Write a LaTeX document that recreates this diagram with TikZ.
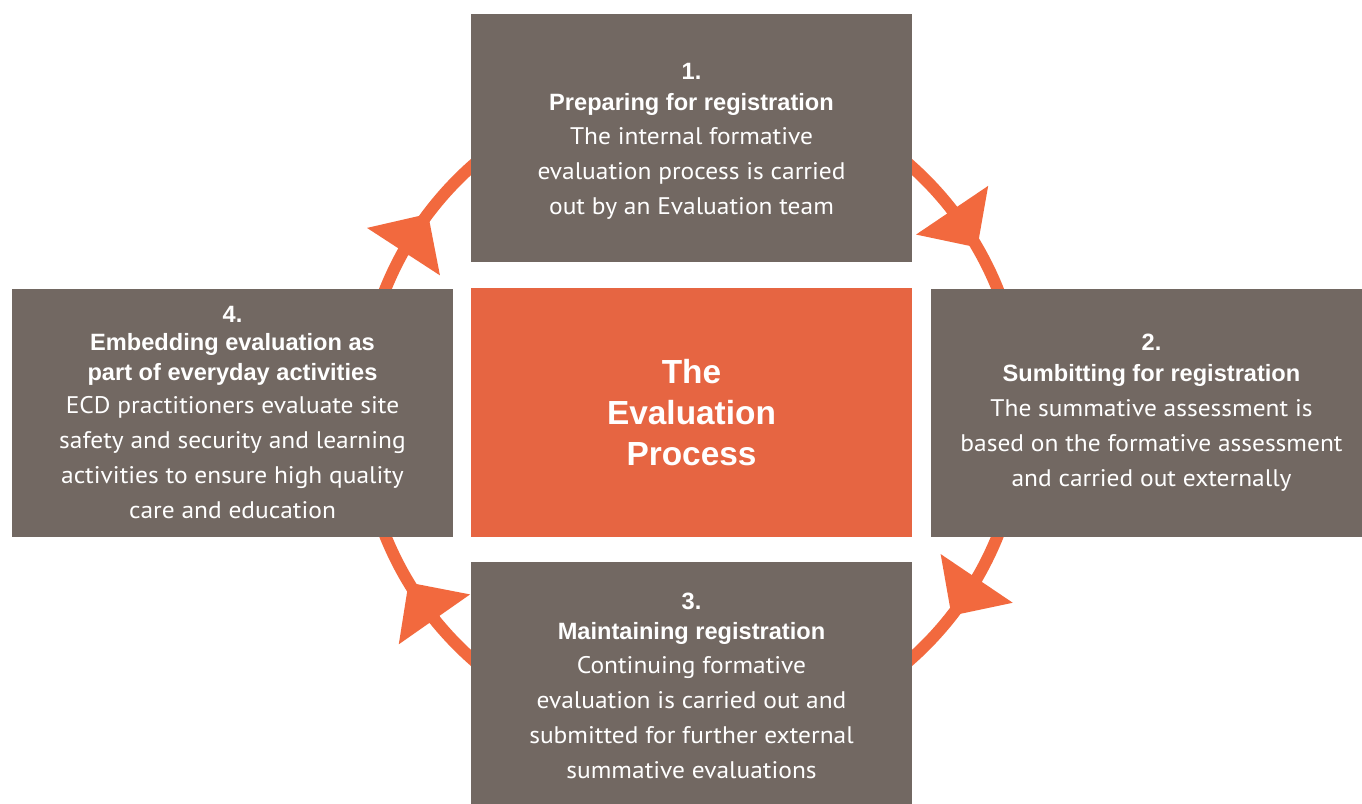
\documentclass[tikz,border=0pt]{standalone}
\usepackage{fontspec}
\setmainfont{PT Sans}[FakeStretch=1.06]
\newfontfamily\arialf{Liberation Sans}
\usetikzlibrary{arrows.meta}
\definecolor{boxgrey}{RGB}{114,104,98}
\definecolor{centreorange}{RGB}{230,101,66}
\definecolor{ringorange}{RGB}{242,105,62}
\newcommand{\stitle}[1]{{\arialf\bfseries\fontsize{23.6}{30}\selectfont #1}}
\tikzset{
  stagebox/.style={fill=boxgrey, minimum width=441pt, minimum height=248pt,
    inner sep=0pt, outer sep=0pt, text=white, align=center,
    font=\fontsize{24}{35}\selectfont},
  stagetext/.style={text=white, align=center, inner sep=0pt,
    font=\fontsize{24}{35}\selectfont},
  centrebox/.style={fill=centreorange, minimum width=441pt, minimum height=249pt,
    inner sep=0pt, outer sep=0pt, text=white, align=center,
    font=\arialf\bfseries\fontsize{33.4}{41}\selectfont},
  ring/.style={draw=ringorange, line width=12pt},
  ringtip/.style={draw=ringorange, line width=12pt,
    -{Triangle[length=45pt,width=87pt,line width=0pt,fill=ringorange,color=ringorange]}},
}
\begin{document}
\begin{tikzpicture}[x=1pt,y=-1pt]
\clip (0,0) rectangle (1362,803);
\fill[white] (0,0) rectangle (1362,803);
% ring
\coordinate (ctr) at (691.5,412.5);
\draw[ring] (ctr) circle[radius=330pt];
% boxes
\node[centrebox] (c) at (691.5,412.5) {The\\Evaluation\\Process};
\node[stagebox] (s1) at (691.5,138) {};
\node[stagetext] (t1) at ([yshift=-3.5pt]s1.center) {\stitle{1.}\\[-4pt]\stitle{Preparing for registration}\\[-1pt]The internal formative\\evaluation process is carried\\out by an Evaluation team};
\node[stagebox] (s2) at (1151.5,412.5) {\stitle{2.}\\[-4pt]\stitle{Sumbitting for registration}\\[0pt]The summative assessment is\\based on the formative assessment\\and carried out externally};
\node[stagebox] (s3) at (691.5,685.5) {\stitle{3.}\\[-5pt]\stitle{Maintaining registration}\\[-1pt]Continuing formative\\evaluation is carried out and\\submitted for further external\\summative evaluations};
\node[stagebox] (s4) at (232.5,412.5) {\stitle{4.}\\[-7pt]\stitle{Embedding evaluation as}\\[-5pt]\stitle{part of everyday activities}\\[-2pt]ECD practitioners evaluate site\\safety and security and learning\\activities to ensure high quality\\care and education};
% arrowheads on the ring
\coordinate (a1b) at (951.5,209.3); \coordinate (a1t) at (977.3,247.5);
\coordinate (a2b) at (977.3,577.5); \coordinate (a2t) at (951.5,615.7);
\coordinate (a3b) at (435.0,620.2); \coordinate (a3t) at (408.6,582.5);
\coordinate (a4b) at (402.9,252.5); \coordinate (a4t) at (428.0,213.9);
\draw[ringtip] (a1b) -- (a1t);
\draw[ringtip] (a2b) -- (a2t);
\draw[ringtip] (a3b) -- (a3t);
\draw[ringtip] (a4b) -- (a4t);
\end{tikzpicture}
\end{document}
